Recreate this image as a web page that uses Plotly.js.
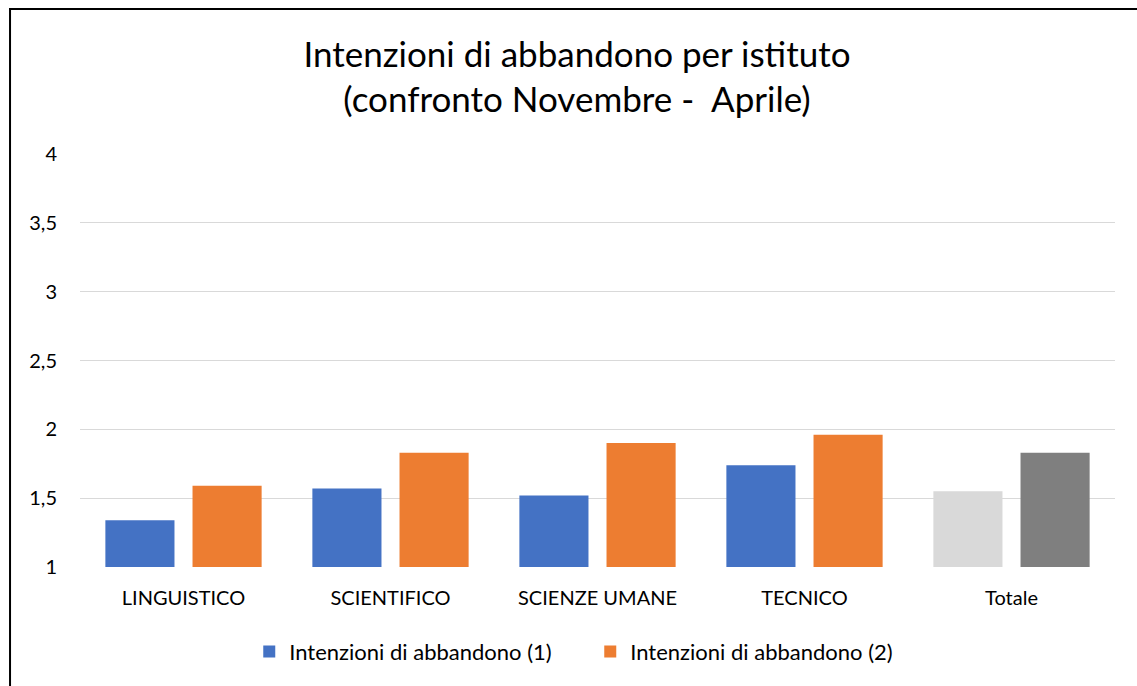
<!DOCTYPE html>
<html>
<head>
<meta charset="utf-8">
<script src="https://cdn.plot.ly/plotly-3.0.1.min.js"></script>
<style>html,body{margin:0;padding:0;background:#fff;}#chart{width:1137px;height:686px;}</style>
</head>
<body>
<div id="chart"></div>
<script>
const categories = ["LINGUISTICO", "SCIENTIFICO", "SCIENZE UMANE", "TECNICO", "Totale"];
const series1Name = "Intenzioni di abbandono (1)";
const series2Name = "Intenzioni di abbandono (2)";
const series1 = [1.34, 1.57, 1.52, 1.74, 1.55];
const series2 = [1.59, 1.83, 1.90, 1.96, 1.83];
const series1Colors = ["#4472C4", "#4472C4", "#4472C4", "#4472C4", "#D9D9D9"];
const series2Colors = ["#ED7D31", "#ED7D31", "#ED7D31", "#ED7D31", "#7F7F7F"];
const yTicks = [1, 1.5, 2, 2.5, 3, 3.5, 4];
const yTickLabels = ["1", "1,5", "2", "2,5", "3", "3,5", "4"];

const font = "Lato, 'Open Sans', sans-serif";

const traces = [
  {type: "bar", name: series1Name, x: categories, y: series1,
   marker: {color: series1Colors}},
  {type: "bar", name: series2Name, x: categories, y: series2,
   marker: {color: series2Colors}}
];

const layout = {
  width: 1137, height: 686,
  margin: {l: 80, r: 22, t: 154, b: 119},
  paper_bgcolor: "#ffffff", plot_bgcolor: "#ffffff",
  font: {family: font, color: "#000000", size: 20},
  title: {
    text: "Intenzioni di abbandono per istituto<br>(confronto Novembre -  Aprile)",
    font: {family: font, size: 35, color: "#000000"},
    x: 0.5075, xanchor: "center", xref: "container", y: 0.9025, yanchor: "middle"
  },
  barmode: "group", bargap: 0.158, bargroupgap: 0.207,
  xaxis: {
    showgrid: false, zeroline: false, showline: false, ticks: "",
    tickfont: {size: 20, color: "#000000"}, ticklabelstandoff: 17
  },
  yaxis: {
    range: [1, 4], tickvals: yTicks, ticktext: yTickLabels,
    showgrid: true, gridcolor: "#D9D9D9", gridwidth: 1,
    zeroline: false, showline: false, ticks: "",
    tickfont: {size: 20, color: "#000000"}, ticklabelstandoff: 22
  },
  legend: {
    orientation: "h", x: 0.493, xanchor: "center", y: -0.205, yanchor: "middle",
    font: {size: 22, color: "#000000"}, itemwidth: 30, traceorder: "normal",
    entrywidth: 296, entrywidthmode: "pixels"
  },
  shapes: [
    {type: "line", xref: "paper", yref: "paper", x0: -0.0676, x1: -0.0676, y0: 1.351, y1: -0.3,
     line: {color: "#000000", width: 2}},
    {type: "line", xref: "paper", yref: "paper", x0: -0.0686, x1: 1.03, y0: 1.351, y1: 1.351,
     line: {color: "#000000", width: 2}}
  ],
  showlegend: true
};

Plotly.newPlot("chart", traces, layout, {displayModeBar: false, staticPlot: true});
</script>
</body>
</html>
